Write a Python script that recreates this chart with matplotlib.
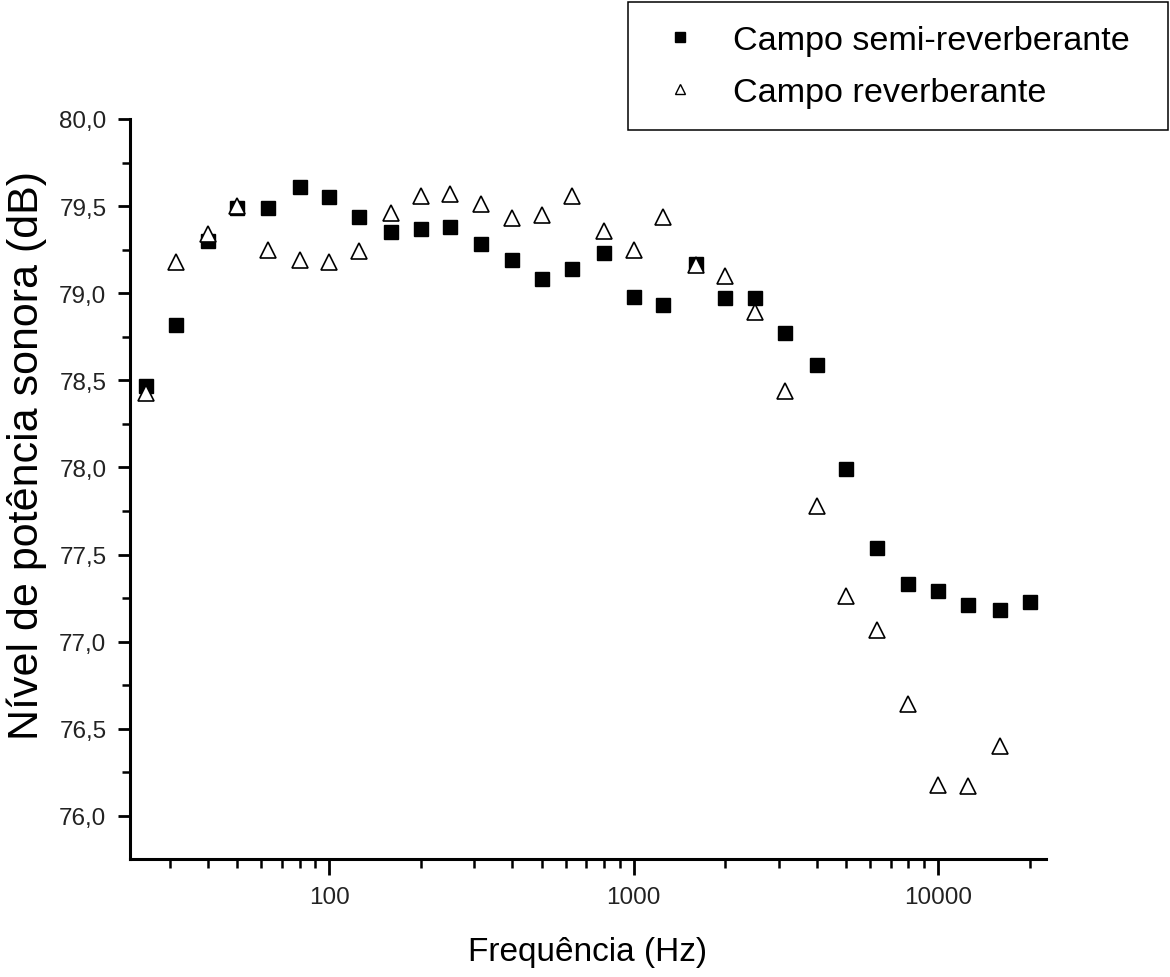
import matplotlib
matplotlib.use("Agg")
import matplotlib.pyplot as plt
from matplotlib.ticker import FixedLocator, FuncFormatter, NullFormatter

plt.rcParams['font.family'] = ['Liberation Sans', 'DejaVu Sans']

freq = [25, 31.5, 40, 50, 63, 80, 100, 125, 160, 200, 250, 315, 400, 500, 630,
        800, 1000, 1250, 1600, 2000, 2500, 3150, 4000, 5000, 6300, 8000, 10000,
        12500, 16000, 20000]
semi_reverb = [78.47, 78.82, 79.30, 79.49, 79.49, 79.61, 79.55, 79.44, 79.35, 79.37,
               79.38, 79.28, 79.19, 79.08, 79.14, 79.23, 78.98, 78.93, 79.17, 78.97,
               78.97, 78.77, 78.59, 77.99, 77.54, 77.33, 77.29, 77.21, 77.18, 77.23]
freq_rev = freq[:29]
reverb = [78.43, 79.18, 79.34, 79.50, 79.25, 79.19, 79.18, 79.24, 79.46, 79.56,
          79.57, 79.51, 79.43, 79.45, 79.56, 79.36, 79.25, 79.44, 79.16, 79.10,
          78.89, 78.44, 77.78, 77.26, 77.07, 76.64, 76.18, 76.17, 76.40]

label_semi = "Campo semi-reverberante"
label_rev = "Campo reverberante"
xlabel = "Frequência (Hz)"
ylabel = "Nível de potência sonora (dB)"
yticks = [76.0, 76.5, 77.0, 77.5, 78.0, 78.5, 79.0, 79.5, 80.0]
xticks = [100, 1000, 10000]

W, H = 1170, 978
fig = plt.figure(figsize=(W / 100, H / 100), dpi=100)
ax_l, ax_r, ax_t, ax_b = 130, 1046, 120, 860
ax = fig.add_axes([ax_l / W, 1 - ax_b / H, (ax_r - ax_l) / W, (ax_b - ax_t) / H])

ax.plot(freq, semi_reverb, linestyle='none', marker='s', markersize=9.4,
        color='black', label=label_semi, zorder=3)
ax.plot(freq_rev, reverb, linestyle='none', marker='^', markersize=12,
        markerfacecolor='white', markeredgecolor='black', markeredgewidth=1.2,
        label=label_rev, zorder=4)

ax.set_xscale('log')
ax.set_xlim(22.2, 22630)
ax.set_ylim(75.753, 80.0)

ax.xaxis.set_major_locator(FixedLocator(xticks))
ax.xaxis.set_major_formatter(FuncFormatter(lambda v, p: f"{int(v)}"))
minors = [m * 10 ** e for e in range(1, 5) for m in range(2, 10)]
ax.xaxis.set_minor_locator(FixedLocator(minors))
ax.xaxis.set_minor_formatter(NullFormatter())

ax.yaxis.set_major_locator(FixedLocator(yticks))
ax.yaxis.set_major_formatter(FuncFormatter(lambda v, p: f"{v:.1f}".replace('.', ',')))
ax.yaxis.set_minor_locator(FixedLocator([v + 0.25 for v in yticks[:-1]]))

for s in ['top', 'right']:
    ax.spines[s].set_visible(False)
for s in ['left', 'bottom']:
    ax.spines[s].set_linewidth(2.2)

ax.tick_params(axis='both', which='major', direction='out', width=2.0,
               labelsize=17.5, colors='black', labelcolor='#222222')
ax.tick_params(axis='x', which='major', length=11.5, pad=8)
ax.tick_params(axis='x', which='minor', length=6.5, width=1.8, direction='out')
ax.tick_params(axis='y', which='major', length=9, pad=8)
ax.tick_params(axis='y', which='minor', length=5.5, width=1.8, direction='out')

ax.set_xlabel(xlabel, fontsize=24)
ax.xaxis.label.set_va('top')
ax.xaxis.set_label_coords(0.5, (ax_b - 937) / (ax_b - ax_t))
ax.set_ylabel(ylabel, fontsize=31)
ax.yaxis.label.set_va('center')
ax.yaxis.set_label_coords((27 - ax_l) / (ax_r - ax_l), (ax_b - 456) / (ax_b - ax_t))

leg = ax.legend(loc='upper left', mode='expand',
                bbox_to_anchor=(628 / W, 1 - 3 / H - 0.01, 540 / W, 0.01),
                bbox_transform=fig.transFigure, fontsize=24.6, frameon=True,
                fancybox=False, framealpha=1, edgecolor='black',
                borderpad=0.66, labelspacing=0.62, handlelength=1.7,
                handletextpad=0.7, borderaxespad=0)
leg.get_frame().set_linewidth(1.1)
hs = leg.legend_handles
hs[0].set_markersize(7)
hs[1].set_markersize(7.5)
hs[1].set_markeredgewidth(1.0)

fig.savefig("out.png", dpi=100)
